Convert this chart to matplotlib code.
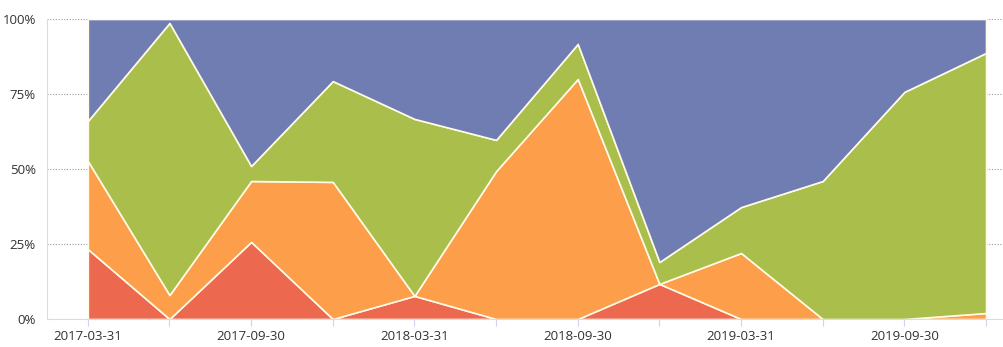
import matplotlib.pyplot as plt
import numpy as np

# quarterly share per category (percent)
quarters = ["2017-03-31", "2017-06-30", "2017-09-30", "2017-12-31",
            "2018-03-31", "2018-06-30", "2018-09-30", "2018-12-31",
            "2019-03-31", "2019-06-30", "2019-09-30", "2019-12-31"]
red_share = [23.3, 0, 25.7, 0, 7.7, 0, 0, 11.7, 0, 0, 0, 0]
orange_share = [29.4, 8.0, 20.3, 45.7, 0, 49.3, 80.0, 0, 22.0, 0, 0, 2.0]
green_share = [13.3, 90.7, 5.0, 33.6, 59.0, 10.4, 11.7, 7.3, 15.3, 46.0, 75.7, 86.7]
blue_share = [34.0, 1.3, 49.0, 20.7, 33.3, 40.3, 8.3, 81.0, 62.7, 54.0, 24.3, 11.3]

colors = ["#ec684e", "#fd9e4b", "#a9be4b", "#6f7db3"]
edge = "#fffbe6"

plt.rcParams['font.family'] = ['Open Sans', 'DejaVu Sans']

fig = plt.figure(figsize=(10.04, 3.47), dpi=100)
ax = fig.add_axes([47 / 1004, 28 / 347, 957 / 1004, 300 / 347])

x = np.arange(len(quarters))
ax.stackplot(x, red_share, orange_share, green_share, blue_share,
             colors=colors, edgecolor=edge, linewidth=1.2, zorder=2)

ax.set_xlim(-0.5, 11.22)
ax.set_ylim(0, 100)

# dotted grid lines
ax.set_yticks([0, 25, 50, 75, 100])
ax.set_yticklabels(["0%", "25%", "50%", "75%", "100%"])
ax.yaxis.grid(True, linestyle=(0, (1, 1.5)), linewidth=0.8, color="#9a9a9a")
ax.set_axisbelow(True)

ax.set_xticks(x)
ax.set_xticklabels([q if i % 2 == 0 else "" for i, q in enumerate(quarters)])

for side in ["top", "right"]:
    ax.spines[side].set_visible(False)
ax.spines["left"].set_color("#d9dde3")
ax.spines["bottom"].set_color("#d9dde3")

ax.tick_params(axis='y', length=0, labelsize=9.5, colors="#333333", pad=8)
ax.tick_params(axis='x', length=5, color="#ccd6eb", labelsize=9.5,
               labelcolor="#333333", pad=3)

fig.savefig("out.png", dpi=100)
